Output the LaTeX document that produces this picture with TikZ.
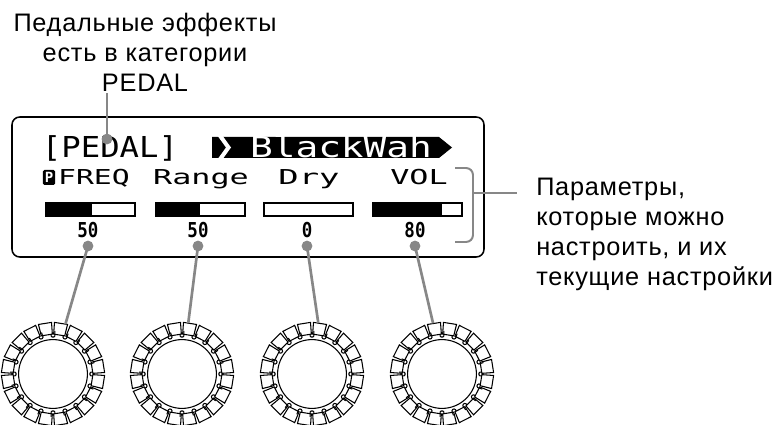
\documentclass[tikz,border=0pt]{standalone}
\usepackage{fontspec}
\setmainfont{Liberation Sans}
\newfontfamily\lblfont[LetterSpace=3]{Liberation Sans}
\newfontfamily\lcdfont{DejaVu Sans Mono}
\usetikzlibrary{positioning, calc}
\definecolor{cLead}{RGB}{135,135,135}
\tikzset{
	lbl/.style    ={inner sep=0pt, font=\lblfont\fontsize{18}{21.3}\selectfont},
	% display text
	lcdbig/.style ={inner sep=0pt, anchor=base, font=\lcdfont\fontsize{20.5}{20.5}\selectfont},
	lcdsm/.style  ={inner sep=0pt, anchor=base, font=\lcdfont\fontsize{14.6}{14.6}\selectfont},
	lcdval/.style ={inner sep=0pt, anchor=base, font=\lcdfont\bfseries\fontsize{14.6}{14.6}\selectfont},
	picon/.style  ={rectangle, rounded corners=1pt, fill=black, text=white, minimum width=0.3cm, minimum height=0.375cm, inner sep=0pt, font=\lcdfont\bfseries\fontsize{10}{10}\selectfont},
	meter/.style  ={draw=black, line width=1.8pt},
	% leaders
	lead/.style   ={draw=cLead, line width=1.9pt},
	leaddot/.style={circle, fill=cLead, minimum size=0.27cm, inner sep=0pt},
	brkt/.style   ={draw=cLead, line width=1.4pt},
	% knobs
	knob/.style   ={circle, minimum size=2.56cm, inner sep=0pt},
	knobline/.style={draw=black, line width=0.75pt},
}

\begin{document}
\begin{tikzpicture}[x=0.025cm, y=-0.025cm]
	\useasboundingbox (0,0) rectangle (776,425);
	\node[lbl, align=center, anchor=south] (catlabel) at (145,92) {Педальные эффекты\\есть в категории\\PEDAL};
	\node[lbl, align=left, anchor=north west] (parlabel) at (536,178) {Параметры,\\которые можно\\настроить, и их\\текущие настройки};

	% display
	\draw[line width=1.1pt, rounded corners=5.5pt] (12,117) rectangle (484,257);
	\node[lcdbig] (cat) at (110,158) {\scalebox{1.12}[1]{[PEDAL]}};
	\fill (212,137) -- (439,137) -- (452,147.5) -- (439,158) -- (212,158) -- cycle;
	\fill[white] (217,135) -- (222,135) -- (231,147.5) -- (222,160) -- (217,160) -- (226,147.5) -- cycle;
	\node[lcdbig, text=white] (fx) at (341,158) {\scalebox{1.31}[1]{BlackWah}};

	\node[picon] (pic) at (49,177.5) {P};
	\node[lcdsm] (p1) at (94,185) {\scalebox{1.45}[1]{FREQ}};
	\node[lcdsm] (p2) at (201,185) {\scalebox{1.55}[1]{Range}};
	\node[lcdsm] (p3) at (309,185) {\scalebox{1.65}[1]{Dry}};
	\node[lcdsm] (p4) at (419,185) {\scalebox{1.55}[1]{VOL}};

	\foreach \bx/\fx/\vx/\val [count=\i] in {45/92/88/50, 155/200/198/50, 263/263/307/0, 372/442/415/80}{
		\draw[meter] (\bx+1,203) rectangle (\bx+90,216);
		\fill (\bx,202) rectangle (\fx,217);
		\node[lcdval] (v\i) at (\vx,238) {\scalebox{0.85}[1]{\val}};
		\node[leaddot] (d\i) at (\vx,246) {};
	}

	% knobs
	\foreach \kx [count=\k] in {53,182,312,442}{
		\node[knob] (knob\k) at (\kx,374) {};
		\begin{scope}[shift={(knob\k.center)}]
			\draw[knobline] (0,0) circle[radius=0.86cm];
			\foreach \a in {0,18,...,342}{
				\draw[knobline, rotate=\a, rounded corners=0.8pt] (43,-1.9) -- (37,-1.9) -- (37,1.9) -- (43,1.9);
				\draw[knobline, fill=white, rotate=\a+9] (39.5,-5.6) -- (51.2,-6.6) -- (51.2,6.6) -- (39.5,5.6) -- cycle;
			}
		\end{scope}
	}

	% leaders
	\node[leaddot] (pdot) at (107,139) {};
	\draw[lead] (pdot.center) -- ([yshift=-1pt]pdot |- catlabel.south);
	\draw[lead] (d1.center) -- (knob1.76);
	\draw[lead] (d2.center) -- (knob2.83);
	\draw[lead] (d3.center) -- (knob3.83);
	\draw[lead] (d4.center) -- (knob4.100);

	\coordinate (brk) at (473,193);
	\coordinate (brkend) at ($(parlabel.north west |- brk)+(-19,0)$);
	\draw[brkt, rounded corners=5pt] (455,168) -- (473,168) -- (473,242) -- (455,242);
	\draw[brkt] (brk) -- (brkend);
\end{tikzpicture}
\end{document}
